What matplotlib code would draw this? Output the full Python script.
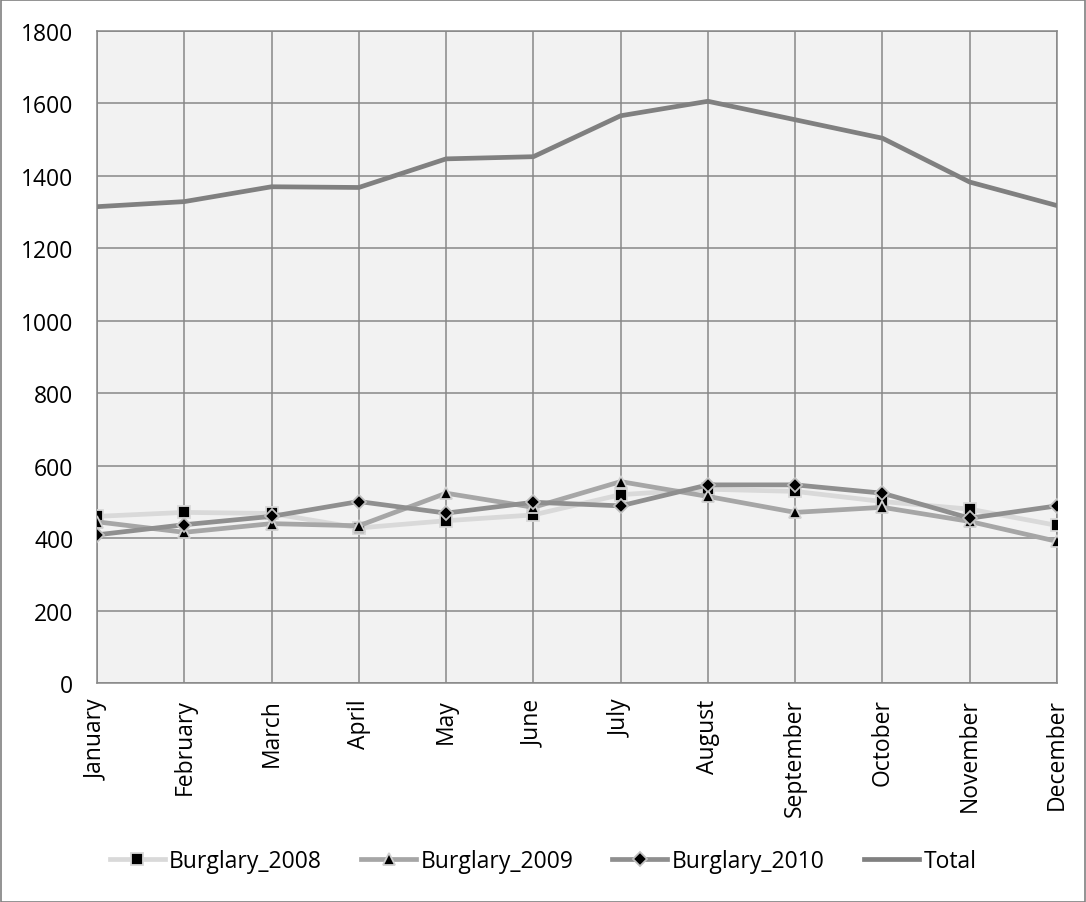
import matplotlib
matplotlib.use("Agg")
import matplotlib.pyplot as plt
from matplotlib.patches import Rectangle

months = ["January", "February", "March", "April", "May", "June", "July",
          "August", "September", "October", "November", "December"]
burglary_2008 = [460, 471, 468, 428, 448, 464, 520, 535, 529, 501, 480, 435]
burglary_2009 = [445, 416, 440, 434, 524, 485, 556, 515, 471, 485, 446, 391]
burglary_2010 = [409, 437, 460, 501, 469, 499, 489, 547, 547, 524, 455, 489]
total = [1315, 1329, 1370, 1368, 1447, 1453, 1566, 1606, 1555, 1504, 1383, 1318]
y_ticks = [0, 200, 400, 600, 800, 1000, 1200, 1400, 1600, 1800]

plt.rcParams['font.family'] = ['Open Sans', 'DejaVu Sans']

W, H = 1086, 903
fig = plt.figure(figsize=(W / 100, H / 100), dpi=100)
ax = fig.add_axes([97 / W, 1 - 684 / H, (1057 - 97) / W, (684 - 32) / H])
ax.set_facecolor("#f2f2f2")

x = list(range(len(months)))
lw = 3.4
ax.plot(x, burglary_2008, color="#d9d9d9", lw=lw, marker="s", ms=8,
        mfc="black", mec="#d9d9d9", mew=1.3, label="Burglary_2008", zorder=3)
ax.plot(x, burglary_2009, color="#a6a6a6", lw=lw, marker="^", ms=9,
        mfc="black", mec="#d0d0d0", mew=1.3, label="Burglary_2009", zorder=4)
ax.plot(x, burglary_2010, color="#8f8f8f", lw=lw, marker="D", ms=7,
        mfc="black", mec="#c0c0c0", mew=1.3, label="Burglary_2010", zorder=5)
ax.plot(x, total, color="#808080", lw=lw, label="Total", zorder=6)

ax.set_xlim(0, 11)
ax.set_ylim(0, 1800)
ax.set_yticks(y_ticks)
ax.set_xticks(x)
ax.set_xticklabels(months, rotation=90)
ax.grid(True, color="#878787", lw=1.1)
ax.set_axisbelow(True)
for s in ax.spines.values():
    s.set_color("#878787")
    s.set_linewidth(1.1)
ax.tick_params(axis="both", length=0, labelsize=16.5, colors="black")
ax.tick_params(axis="y", pad=17)
ax.tick_params(axis="x", pad=11)

leg = fig.legend(loc="center", bbox_to_anchor=(0.5, 1 - 862 / H), ncol=4,
                 frameon=False, fontsize=16.5, handlelength=2.4,
                 handletextpad=0.2, columnspacing=1.7, markerscale=1.0)

fig.patches.append(Rectangle((0.5 / W, 0.5 / H), 1 - 1.5 / W, 1 - 1.5 / H,
                             transform=fig.transFigure, fill=False,
                             edgecolor="#808080", lw=1.2))
fig.savefig("out.png", dpi=100, facecolor="white")
